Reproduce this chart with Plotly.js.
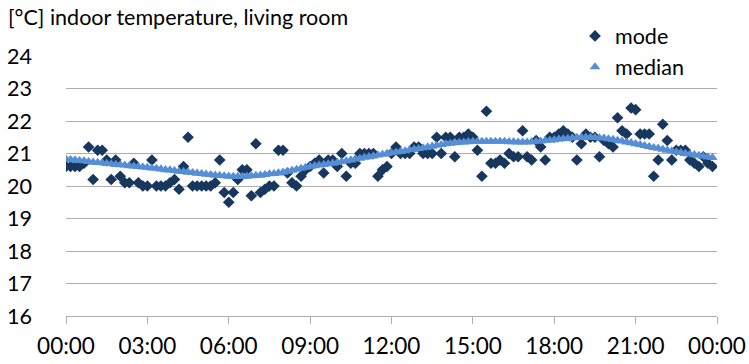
<!DOCTYPE html>
<html>
<head>
<meta charset="utf-8">
<script src="https://cdn.plot.ly/plotly-3.0.1.min.js"></script>
<style>
  html, body { margin: 0; padding: 0; background: #ffffff; }
  #chart { width: 749px; height: 364px; }
</style>
</head>
<body>
<div id="chart"></div>
<script>
// Indoor temperature in the living room over one day, sampled every 10 minutes.
// "mode" = most frequent reading per time slot, "median" = median reading.

// 10-minute slots 00:00 ... 23:50
const slots = [];
for (let h = 0; h < 24; h++) {
  for (let m = 0; m < 60; m += 10) {
    slots.push(String(h).padStart(2, '0') + ':' + String(m).padStart(2, '0'));
  }
}

// Mode per slot [°C]
const modeValues = [
  20.6, 20.6, 20.6, 20.6, 20.7, 21.2, 20.2, 21.1, 21.1, 20.8, 20.2, 20.8,
  20.3, 20.1, 20.1, 20.7, 20.1, 20.0, 20.0, 20.8, 20.0, 20.0, 20.0, 20.1,
  20.2, 19.9, 20.6, 21.5, 20.0, 20.0, 20.0, 20.0, 20.0, 20.1, 20.8, 19.8,
  19.5, 19.8, 20.2, 20.5, 20.5, 19.7, 21.3, 19.8, 19.9, 20.0, 20.0, 21.1,
  21.1, 20.4, 20.1, 20.0, 20.3, 20.5, 20.6, 20.7, 20.8, 20.4, 20.8, 20.8,
  20.6, 21.0, 20.3, 20.7, 20.7, 21.0, 21.0, 21.0, 21.0, 20.3, 20.5, 20.6,
  21.0, 21.2, 21.0, 21.0, 21.0, 21.2, 21.2, 21.0, 21.0, 21.0, 21.5, 21.0,
  21.5, 21.5, 20.9, 21.5, 21.5, 21.6, 21.5, 21.1, 20.3, 22.3, 20.7, 20.7,
  20.8, 20.7, 21.0, 20.9, 20.9, 21.7, 20.9, 20.8, 21.4, 21.2, 20.8, 21.5,
  21.5, 21.6, 21.7, 21.6, 21.5, 20.8, 21.3, 21.6, 21.5, 21.5, 20.9, 21.4,
  21.3, 21.2, 22.1, 21.7, 21.6, 22.4, 22.35, 21.6, 21.6, 21.6, 20.3, 20.8,
  21.9, 21.4, 20.8, 21.1, 21.1, 21.1, 20.8, 20.7, 20.6, 20.9, 20.7, 20.6
];

// Median per slot [°C]
const medianValues = [
  20.82, 20.81, 20.80, 20.78, 20.77, 20.75,
  20.73, 20.72, 20.71, 20.69, 20.68, 20.66,
  20.65, 20.64, 20.62, 20.61, 20.60, 20.58,
  20.57, 20.55, 20.54, 20.52, 20.50, 20.49,
  20.47, 20.45, 20.44, 20.42, 20.41, 20.39,
  20.38, 20.36, 20.35, 20.33, 20.32, 20.31,
  20.30, 20.29, 20.29, 20.29, 20.30, 20.31,
  20.32, 20.33, 20.35, 20.37, 20.38, 20.40,
  20.42, 20.45, 20.48, 20.51, 20.54, 20.57,
  20.60, 20.62, 20.64, 20.66, 20.68, 20.70,
  20.72, 20.75, 20.77, 20.80, 20.83, 20.85,
  20.88, 20.90, 20.92, 20.95, 20.97, 21.00,
  21.02, 21.04, 21.06, 21.08, 21.11, 21.13,
  21.15, 21.17, 21.20, 21.22, 21.25, 21.27,
  21.30, 21.31, 21.33, 21.34, 21.35, 21.36,
  21.37, 21.37, 21.37, 21.37, 21.37, 21.37,
  21.37, 21.37, 21.36, 21.36, 21.35, 21.35,
  21.35, 21.36, 21.37, 21.38, 21.40, 21.41,
  21.42, 21.44, 21.45, 21.46, 21.48, 21.49,
  21.50, 21.50, 21.50, 21.49, 21.48, 21.47,
  21.45, 21.43, 21.40, 21.38, 21.35, 21.33,
  21.30, 21.27, 21.24, 21.21, 21.18, 21.16,
  21.13, 21.10, 21.08, 21.05, 21.03, 21.00,
  20.98, 20.96, 20.94, 20.91, 20.89, 20.87
];

// Axis ticks
const xTickLabels = ['00:00', '03:00', '06:00', '09:00', '12:00', '15:00', '18:00', '21:00', '00:00'];
const yTicks = [16, 17, 18, 19, 20, 21, 22, 23, 24];

const DAY = '2000-01-01 ';
const NEXT_DAY = '2000-01-02 ';
const xDates = slots.map(s => DAY + s);
const xTickVals = xTickLabels.map((t, i) => (i === xTickLabels.length - 1 ? NEXT_DAY : DAY) + t);

const FONT = 'Lato, "Open Sans", sans-serif';
const FS = 21.5;
const TEXT = '#000000';
const GRID = '#ADADAD';

const traces = [
  {
    type: 'scatter', mode: 'markers', name: 'mode',
    x: xDates, y: modeValues,
    marker: { symbol: 'diamond', size: 9, color: '#17375E' },
    legend: 'legend', hoverinfo: 'x+y'
  },
  {
    type: 'scatter', mode: 'markers', name: 'median',
    x: xDates, y: medianValues,
    marker: { symbol: 'triangle-up', size: 9.5, color: '#558ED5' },
    legend: 'legend2', hoverinfo: 'x+y'
  }
];

const legendBase = {
  xanchor: 'left', yanchor: 'middle',
  bgcolor: 'rgba(0,0,0,0)', borderwidth: 0,
  font: { family: FONT, size: FS, color: TEXT },
  itemwidth: 30, tracegroupgap: 0
};

const layout = {
  width: 749, height: 364,
  margin: { l: 66, r: 32, t: 56, b: 48, pad: 0 },
  paper_bgcolor: '#ffffff', plot_bgcolor: '#ffffff',
  font: { family: FONT, size: FS, color: TEXT },
  title: {
    text: '[°C] indoor temperature, living room',
    font: { family: FONT, size: FS, color: TEXT },
    x: 8 / 749, xanchor: 'left', xref: 'container',
    y: 1 - 17 / 364, yanchor: 'middle', yref: 'container'
  },
  showlegend: true,
  legend: Object.assign({}, legendBase, { x: (575 - 66) / 651, y: (316 - 36) / 260 }),
  legend2: Object.assign({}, legendBase, { x: (575 - 66) / 651, y: (316 - 67) / 260 }),
  xaxis: {
    type: 'date',
    range: [DAY + '00:00', NEXT_DAY + '00:00'],
    tickmode: 'array', tickvals: xTickVals, ticktext: xTickLabels,
    ticks: 'outside', ticklen: 7, tickwidth: 1, tickcolor: GRID,
    showline: true, linecolor: GRID, linewidth: 1,
    showgrid: false, zeroline: false,
    tickfont: { family: FONT, size: FS + 1, color: TEXT },
    ticklabelstandoff: 3
  },
  yaxis: {
    range: [16, 24],
    tickmode: 'array', tickvals: yTicks,
    showgrid: true, gridcolor: GRID, gridwidth: 1,
    showline: false, zeroline: false, ticks: '',
    tickfont: { family: FONT, size: FS, color: TEXT },
    ticklabelstandoff: 33
  }
};

Plotly.newPlot('chart', traces, layout, { displayModeBar: false, staticPlot: true });
</script>
</body>
</html>
